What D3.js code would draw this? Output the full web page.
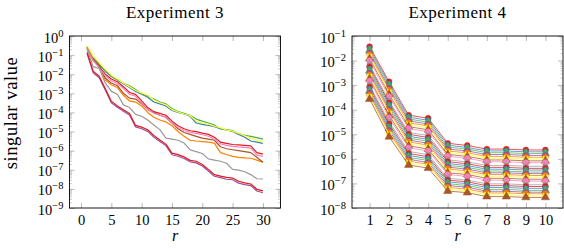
<!DOCTYPE html>
<html><head><meta charset="utf-8">
<script src="https://cdn.jsdelivr.net/npm/d3@7"></script>
<style>
body{margin:0;background:#fff}
svg{display:block}
</style>
</head><body>
<svg id="chart" width="564" height="248"></svg>
<script>
// ---------- DATA ----------
const set1 = ["#e41a1c","#377eb8","#4daf4a","#984ea3","#ff7f00","#ffff33","#a65628","#f781bf","#999999"];
const set1Marks = ["circle","square","triangle","circle","circle","square","triangle","circle","square"];

// Experiment 3 (rank r = 1..30)
const ranks3 = [1,2,3,4,5,6,7,8,9,10,11,12,13,14,15,16,17,18,19,20,21,22,23,24,25,26,27,28,29,30];
const exp3Red    = [2.5e-1,6.3e-2,2.5e-2,1.0e-2,5.6e-3,4.0e-3,2.2e-3,1.1e-3,8.9e-4,4.0e-4,1.8e-4,1.1e-4,8.9e-5,7.1e-5,3.5e-5,2.0e-5,1.4e-5,1.1e-5,1.0e-5,8.3e-6,7.1e-6,5.0e-6,2.8e-6,2.4e-6,2.1e-6,2.0e-6,1.9e-6,1.8e-6,7.9e-7,6.6e-7];
const exp3Blue   = [2.6e-1,7.1e-2,3.2e-2,1.4e-2,7.6e-3,5.0e-3,3.2e-3,2.0e-3,1.26e-3,8.9e-4,6.3e-4,3.5e-4,2.8e-4,2.2e-4,1.26e-4,1.0e-4,8.3e-5,6.3e-5,2.8e-5,2.4e-5,2.1e-5,1.8e-5,1.4e-5,1.2e-5,1.0e-5,7.1e-6,5.0e-6,3.2e-6,2.8e-6,2.4e-6];
const exp3Green  = [2.8e-1,7.9e-2,3.5e-2,1.6e-2,7.9e-3,5.2e-3,3.5e-3,2.5e-3,1.6e-3,9.5e-4,7.1e-4,5.0e-4,3.5e-4,2.8e-4,1.6e-4,1.1e-4,8.9e-5,7.1e-5,4.5e-5,3.5e-5,2.8e-5,2.2e-5,1.4e-5,1.26e-5,1.12e-5,7.9e-6,6.3e-6,5.6e-6,4.8e-6,4.0e-6];
const exp3Purple = [1.2e-1,1.2e-2,6.6e-3,1.5e-3,3.2e-4,1.85e-4,1.17e-4,7.3e-5,1.75e-5,1.4e-5,1.02e-5,5.2e-6,3.0e-6,1.85e-6,6.1e-7,5.1e-7,3.9e-7,2.6e-7,2.3e-7,1.58e-7,8.6e-8,4.6e-8,3.9e-8,3.2e-8,3.0e-8,2.0e-8,1.66e-8,1.48e-8,7.8e-9,6.3e-9];
const exp3Orange = [2.2e-1,5.0e-2,2.5e-2,5.0e-3,2.8e-3,2.0e-3,7.9e-4,4.0e-4,3.5e-4,2.2e-4,1.0e-4,5.6e-5,4.0e-5,3.2e-5,2.0e-5,1.0e-5,5.6e-6,3.5e-6,3.2e-6,3.0e-6,2.8e-6,2.5e-6,7.9e-7,6.3e-7,5.0e-7,4.5e-7,4.2e-7,4.0e-7,3.2e-7,2.5e-7];
const exp3Yellow = [3.2e-1,8.9e-2,4.0e-2,1.8e-2,8.9e-3,5.6e-3,3.5e-3,2.2e-3,1.4e-3,1.05e-3,7.9e-4,4.5e-4,3.2e-4,2.5e-4,1.4e-4,1.05e-4,8.3e-5,6.9e-5,3.5e-5,2.8e-5,2.4e-5,1.9e-5,1.6e-5,1.2e-5,1.05e-5,8.3e-6,6.0e-6,4.5e-6,3.5e-6,2.8e-6];
const exp3Brown  = [2.4e-1,5.6e-2,2.8e-2,6.3e-3,3.5e-3,2.5e-3,1.0e-3,5.6e-4,5.0e-4,2.8e-4,1.4e-4,1.0e-4,7.1e-5,5.6e-5,2.8e-5,1.4e-5,8.9e-6,7.1e-6,5.6e-6,4.5e-6,4.0e-6,3.5e-6,1.6e-6,1.26e-6,1.12e-6,1.0e-6,8.9e-7,7.9e-7,4.5e-7,2.5e-7];
const exp3Pink   = [2.3e-1,5.5e-2,2.1e-2,8.4e-3,4.7e-3,3.2e-3,1.8e-3,9.0e-4,7.1e-4,3.2e-4,1.45e-4,9.0e-5,7.1e-5,5.7e-5,2.9e-5,1.62e-5,1.13e-5,9.0e-6,8.0e-6,6.8e-6,5.7e-6,4.0e-6,2.25e-6,1.9e-6,1.67e-6,1.57e-6,1.5e-6,1.35e-6,5.9e-7,5.0e-7];
const exp3Gray   = [2.0e-1,2.5e-2,2.0e-2,3.5e-3,1.26e-3,8.9e-4,2.5e-4,1.8e-4,7.9e-5,6.3e-5,4.0e-5,2.2e-5,1.26e-5,4.5e-6,4.0e-6,3.5e-6,2.5e-6,1.1e-6,8.9e-7,7.1e-7,3.7e-7,3.2e-7,2.8e-7,2.2e-7,1.05e-7,9.5e-8,7.9e-8,5.6e-8,3.4e-8,3.3e-8];
const exp3Red2   = [1.4e-1,1.45e-2,7.9e-3,1.8e-3,3.9e-4,2.2e-4,1.4e-4,8.8e-5,2.1e-5,1.7e-5,1.25e-5,6.3e-6,3.6e-6,2.2e-6,7.4e-7,6.2e-7,4.7e-7,3.1e-7,2.8e-7,1.9e-7,1.05e-7,5.6e-8,4.7e-8,4.0e-8,3.7e-8,2.5e-8,2.05e-8,1.8e-8,9.5e-9,7.8e-9];
const exp3Series = [exp3Red, exp3Blue, exp3Green, exp3Purple, exp3Orange, exp3Yellow, exp3Brown, exp3Pink, exp3Gray, exp3Red2];

// Experiment 4 (rank r = 1..10), top line first
const ranks4 = [1,2,3,4,5,6,7,8,9,10];
const exp4Series = [
 [3.72e-2,1.38e-3,6.0e-5,4.5e-5,4.3e-6,3.5e-6,2.5e-6,2.5e-6,2.3e-6,2.3e-6],
 [3.08e-2,1.13e-3,5.0e-5,3.7e-5,3.6e-6,2.9e-6,2.1e-6,2.1e-6,1.93e-6,1.93e-6],
 [2.54e-2,9.3e-4,4.2e-5,3.1e-5,3.0e-6,2.5e-6,1.78e-6,1.78e-6,1.64e-6,1.64e-6],
 [2.10e-2,7.6e-4,3.5e-5,2.6e-5,2.5e-6,2.1e-6,1.50e-6,1.50e-6,1.38e-6,1.38e-6],
 [1.74e-2,6.2e-4,2.9e-5,2.2e-5,2.1e-6,1.76e-6,1.26e-6,1.26e-6,1.16e-6,1.16e-6],
 [1.44e-2,5.1e-4,2.45e-5,1.82e-5,1.81e-6,1.48e-6,1.06e-6,1.06e-6,9.8e-7,9.8e-7],
 [1.19e-2,4.2e-4,2.05e-5,1.52e-5,1.52e-6,1.25e-6,9.0e-7,9.0e-7,8.3e-7,8.3e-7],
 [9.9e-3,3.4e-4,1.71e-5,1.27e-5,1.28e-6,1.05e-6,7.6e-7,7.6e-7,7.0e-7,7.0e-7],
 [6.7e-3,2.3e-4,1.19e-5,8.9e-6,9.1e-7,7.5e-7,5.4e-7,5.4e-7,5.0e-7,5.0e-7],
 [5.6e-3,1.9e-4,1.0e-5,7.4e-6,7.7e-7,6.3e-7,4.5e-7,4.5e-7,4.1e-7,4.1e-7],
 [4.6e-3,1.56e-4,8.3e-6,6.2e-6,6.4e-7,5.3e-7,3.8e-7,3.8e-7,3.5e-7,3.5e-7],
 [3.8e-3,1.28e-4,7.0e-6,5.2e-6,5.4e-7,4.5e-7,3.2e-7,3.2e-7,2.9e-7,2.9e-7],
 [3.16e-3,1.04e-4,5.8e-6,4.3e-6,4.6e-7,3.8e-7,2.7e-7,2.7e-7,2.5e-7,2.5e-7],
 [2.6e-3,8.6e-5,4.9e-6,3.6e-6,3.9e-7,3.2e-7,2.3e-7,2.3e-7,2.1e-7,2.1e-7],
 [2.2e-3,7.0e-5,4.1e-6,3.0e-6,3.2e-7,2.7e-7,1.91e-7,1.91e-7,1.76e-7,1.76e-7],
 [1.8e-3,5.8e-5,3.4e-6,2.5e-6,2.7e-7,2.3e-7,1.61e-7,1.61e-7,1.48e-7,1.48e-7],
 [1.5e-3,4.7e-5,2.8e-6,2.1e-6,2.3e-7,1.93e-7,1.36e-7,1.36e-7,1.25e-7,1.25e-7],
 [1.01e-3,3.2e-5,2.0e-6,1.47e-6,1.63e-7,1.37e-7,9.6e-8,9.6e-8,8.8e-8,8.8e-8],
 [8.4e-4,2.6e-5,1.65e-6,1.22e-6,1.37e-7,1.16e-7,8.1e-8,8.1e-8,7.5e-8,7.5e-8],
 [6.9e-4,2.1e-5,1.38e-6,1.02e-6,1.16e-7,9.8e-8,6.8e-8,6.8e-8,6.3e-8,6.3e-8],
 [5.7e-4,1.75e-5,1.15e-6,8.6e-7,9.8e-8,8.2e-8,5.7e-8,5.7e-8,5.2e-8,5.2e-8],
 [4.8e-4,1.44e-5,9.6e-7,7.1e-7,8.2e-8,7.0e-8,4.8e-8,4.8e-8,4.4e-8,4.4e-8],
 [3.9e-4,1.18e-5,8.1e-7,6.0e-7,6.9e-8,5.9e-8,4.1e-8,4.1e-8,3.8e-8,3.8e-8],
 [3.3e-4,9.7e-6,6.7e-7,5.0e-7,5.8e-8,5.0e-8,3.4e-8,3.4e-8,3.1e-8,3.1e-8],
 [2.7e-4,7.9e-6,5.6e-7,4.2e-7,4.9e-8,4.2e-8,2.9e-8,2.9e-8,2.7e-8,2.7e-8]
];

// Tick labels
const xTicks3 = [0,5,10,15,20,25,30];
const xTicks4 = [1,2,3,4,5,6,7,8,9,10];
const yExp3 = [0,-1,-2,-3,-4,-5,-6,-7,-8,-9];
const yExp4 = [-1,-2,-3,-4,-5,-6,-7,-8];
const titles = ["Experiment 3","Experiment 4"];
const yLabel = "singular value";
const xLabel = "r";

// ---------- DRAW ----------
const FONT = '"Liberation Serif","Times New Roman",serif';
const svg = d3.select("#chart");
svg.append("rect").attr("width",564).attr("height",248).attr("fill","#fff");
const symbols = {circle: d3.symbolCircle, square: d3.symbolSquare, triangle: d3.symbolTriangle};
const symSize = {circle: 26, square: 24, triangle: 30};

function panel(o){
  const g = svg.append("g");
  const x = d3.scaleLinear().domain(o.xDomain).range([o.x0,o.x1]);
  const y = d3.scaleLog().domain(o.yDomain).range([o.y1,o.y0]);
  const major = o.yExps.map(e => Math.pow(10,e));
  const minor = [];
  const lo = d3.min(o.yExps), hi = d3.max(o.yExps);
  for (let e = lo; e < hi; e++) for (let m = 2; m <= 9; m++) minor.push(m*Math.pow(10,e));

  const style = (sel, col, w) => { sel.select(".domain").remove(); sel.selectAll("line").attr("stroke",col).attr("stroke-width",w); };

  // minor ticks
  style(g.append("g").attr("transform",`translate(${o.x0},0)`).call(d3.axisLeft(y).tickValues(minor).tickSizeInner(-2.5).tickSizeOuter(0).tickFormat("")), "#aaa", 0.6);
  style(g.append("g").attr("transform",`translate(${o.x1},0)`).call(d3.axisRight(y).tickValues(minor).tickSizeInner(-2.5).tickSizeOuter(0).tickFormat("")), "#aaa", 0.6);
  // major y ticks
  const gy = g.append("g").attr("transform",`translate(${o.x0},0)`)
    .call(d3.axisLeft(y).tickValues(major).tickSizeInner(-5).tickSizeOuter(0).tickPadding(6));
  style(gy, "#999", 0.7);
  gy.attr("font-family",FONT).attr("font-size",14.5);
  gy.selectAll(".tick text").attr("fill","#000").attr("dy","0.42em").each(function(d){
    const e = Math.round(Math.log10(d));
    const t = d3.select(this); t.text(null);
    t.append("tspan").text("10");
    t.append("tspan").attr("dy",-6).attr("font-size",10.5).text(e < 0 ? "\u2212"+(-e) : String(e));
  });
  style(g.append("g").attr("transform",`translate(${o.x1},0)`).call(d3.axisRight(y).tickValues(major).tickSizeInner(-5).tickSizeOuter(0).tickFormat("")), "#999", 0.7);
  // x ticks
  const gx = g.append("g").attr("transform",`translate(0,${o.y1})`)
    .call(d3.axisBottom(x).tickValues(o.xTicks).tickSizeInner(-5).tickSizeOuter(0).tickPadding(7));
  style(gx, "#999", 0.7);
  gx.attr("font-family",FONT).attr("font-size",14.5);
  gx.selectAll(".tick text").attr("fill","#000");
  style(g.append("g").attr("transform",`translate(0,${o.y0})`).call(d3.axisTop(x).tickValues(o.xTicks).tickSizeInner(-5).tickSizeOuter(0).tickFormat("")), "#999", 0.7);

  // series
  const line = d3.line().x((d,i) => x(o.ranks[i])).y(d => y(d));
  const sg = g.append("g");
  o.series.forEach((s,i) => {
    const col = set1[i % 9];
    sg.append("path").datum(s).attr("d",line).attr("fill","none")
      .attr("stroke",col).attr("stroke-width",o.lw).attr("stroke-linejoin","round");
    if (o.markers) {
      const mk = set1Marks[i % 9];
      sg.selectAll(null).data(s).enter().append("path")
        .attr("d", d3.symbol().type(symbols[mk]).size(symSize[mk]))
        .attr("transform",(d,j) => `translate(${x(o.ranks[j])},${y(d)})`)
        .attr("fill",col).attr("stroke",col).attr("stroke-width",0.5);
    }
  });

  // frame
  g.append("rect").attr("x",o.x0).attr("y",o.y0).attr("width",o.x1-o.x0).attr("height",o.y1-o.y0)
    .attr("fill","none").attr("stroke","#000").attr("stroke-width",0.9);

  // title & labels
  g.append("text").attr("x",(o.x0+o.x1)/2).attr("y",18).attr("text-anchor","middle")
    .attr("font-family",FONT).attr("font-size",17).attr("letter-spacing",0.5).text(o.title);
  g.append("text").attr("x",(o.x0+o.x1)/2).attr("y",241).attr("text-anchor","middle")
    .attr("font-family",FONT).attr("font-size",16).attr("font-style","italic").text(xLabel);
}

panel({x0:69.5,x1:280.5,y0:36,y1:208,xDomain:[-1.9,32.9],yDomain:[1e-9,1],
  xTicks:xTicks3,yExps:yExp3,ranks:ranks3,series:exp3Series,markers:false,lw:1.2,title:titles[0]});
panel({x0:352,x1:563,y0:36,y1:208,xDomain:[0.1,10.9],yDomain:[1e-8,1e-1],
  xTicks:xTicks4,yExps:yExp4,ranks:ranks4,series:exp4Series,markers:true,lw:0.75,title:titles[1]});

svg.append("text").attr("transform","translate(17,113) rotate(-90)").attr("text-anchor","middle")
  .attr("font-family",FONT).attr("font-size",18.5).attr("letter-spacing",0.6).text(yLabel);
</script>
</body></html>
